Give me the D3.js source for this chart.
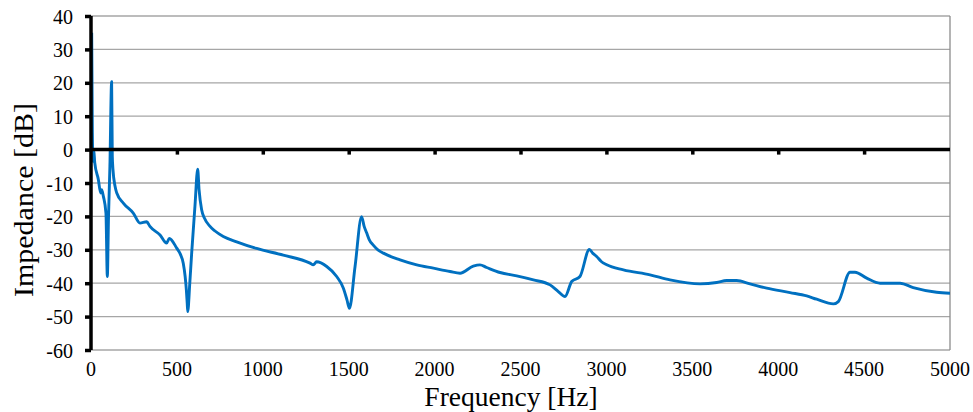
<!DOCTYPE html>
<html><head><meta charset="utf-8">
<script src="https://cdn.jsdelivr.net/npm/d3@7"></script>
<style>body{margin:0;background:#fff}svg{display:block}text{font-family:'Liberation Serif','Times New Roman',serif}</style>
</head><body>
<svg id="c" width="973" height="412"></svg>
<script>
const frequency = [4,8,12,16,22,43,56,62,72,87,95,102,110,120,124,128,140,150,188,246,285,324,343,402,440,456,499,520,537,548,555,560,563,575,586,605,621,629,644,660,693,720,770,848,964,1119,1275,1294,1313,1372,1430,1469,1490,1504,1537,1575,1590,1605,1620,1643,1670,1702,1799,1896,1993,2090,2148,2225,2264,2303,2381,2478,2575,2672,2720,2759,2798,2846,2901,2920,2943,2970,3002,3099,3254,3370,3545,3642,3700,3758,3836,3933,4069,4166,4224,4321,4350,4418,4447,4515,4593,4709,4786,4922,5000];
const impedance = [35,5,-3.5,0,-4,-9,-13,-12,-14,-19,-38,-20,-5,20.3,-2,-6,-11,-13,-16,-19,-22,-21.6,-23,-25.6,-28,-26.6,-29.5,-31.3,-34,-38,-42,-46,-48.5,-40,-31,-17,-5.9,-12,-18,-20.5,-23,-24.3,-26,-27.6,-29.6,-31.6,-34,-34.5,-33.6,-35,-38,-41.5,-45,-47.5,-35,-20.1,-23,-25,-27,-28.6,-30,-31,-33,-34.5,-35.5,-36.5,-37,-34.9,-34.5,-35.3,-36.8,-37.8,-39,-40.5,-42.5,-44,-39.5,-38,-29.9,-31,-32,-33.5,-34.5,-36,-37.5,-39,-40.2,-39.8,-39.2,-39.2,-40.2,-41.5,-42.8,-43.8,-44.8,-46.2,-45.5,-36.7,-36.7,-38.5,-40,-40,-41.3,-42.7,-43];
const xTicks = [0,500,1000,1500,2000,2500,3000,3500,4000,4500,5000];
const yTicks = [-60,-50,-40,-30,-20,-10,0,10,20,30,40];
const xTitle = "Frequency [Hz]";
const yTitle = "Impedance [dB]";

const L = 91, R = 950, T = 16, B = 350;
const x = d3.scaleLinear().domain([0,5000]).range([L,R]);
const y = d3.scaleLinear().domain([-60,40]).range([B,T]);
const svg = d3.select("#c");
const font = "'Liberation Serif','Times New Roman',serif";

// gridlines
svg.append("g").selectAll("line").data(yTicks).join("line")
  .attr("x1", L).attr("x2", R).attr("y1", d=>y(d)).attr("y2", d=>y(d))
  .attr("stroke", "#a6a6a6").attr("stroke-width", 1.3);
// right border
svg.append("line").attr("x1", R).attr("x2", R).attr("y1", T).attr("y2", B)
  .attr("stroke", "#8c8c8c").attr("stroke-width", 1.3);

// data line
const pts = frequency.map((f,i)=>[f, impedance[i]]);
svg.append("defs").append("clipPath").attr("id","clip").append("rect")
  .attr("x", L).attr("y", T-2).attr("width", R-L).attr("height", B-T+4);
svg.append("path").datum(pts)
  .attr("clip-path","url(#clip)")
  .attr("fill","none").attr("stroke","#0070C0").attr("stroke-width",2.9)
  .attr("stroke-linejoin","round")
  .attr("d", d3.line().curve(d3.curveMonotoneX).x(d=>x(d[0])).y(d=>y(d[1])));

// zero axis (x axis at 0)
const xAxis = d3.axisBottom(x).tickValues(xTicks).tickSize(5).tickFormat("");
const gx0 = svg.append("g").attr("transform", `translate(0,${y(0)})`).call(xAxis);
gx0.select(".domain").attr("stroke","#000").attr("stroke-width",3.5).attr("d", `M${L},0H${R}`);
gx0.selectAll(".tick line").attr("stroke","#000").attr("stroke-width",3.5);
gx0.selectAll(".tick").filter(d=>d===0||d===5000).remove();

// y axis
const gy = svg.append("g").attr("transform", `translate(${L},0)`)
  .call(d3.axisLeft(y).tickValues(yTicks).tickSize(6).tickFormat(""));
gy.select(".domain").attr("stroke","#000").attr("stroke-width",3.5).attr("d", `M0,${T}V${B}`);
gy.selectAll(".tick line").attr("stroke","#000").attr("stroke-width",3.5);

// tick labels
svg.append("g").selectAll("text").data(xTicks).join("text")
  .attr("transform", d=>`translate(${x(d)},376) scale(1,1.1)`)
  .attr("text-anchor","middle").style("font-family", font).style("font-size","20px")
  .attr("fill","#000").text(d=>String(d));
svg.append("g").selectAll("text").data(yTicks).join("text")
  .attr("transform", d=>`translate(73,${y(d)+7.5}) scale(1,1.1)`)
  .attr("text-anchor","end").style("font-family", font).style("font-size","20px")
  .attr("fill","#000").text(d=>String(d));

// titles
svg.append("text").attr("transform","translate(511,406)").attr("text-anchor","middle")
  .style("font-family", font).style("font-size","27.5px").text(xTitle);
svg.append("text").attr("transform", "translate(33,200) rotate(-90) scale(1,0.91)").attr("text-anchor","middle")
  .style("font-family", font).style("font-size","30px").text(yTitle);
</script>
</body></html>
